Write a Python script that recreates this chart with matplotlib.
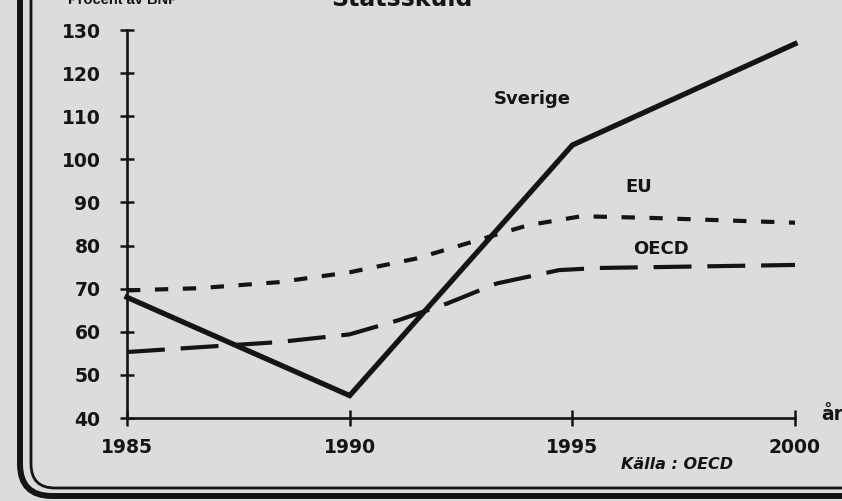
import matplotlib.pyplot as plt
from matplotlib.patches import FancyBboxPatch

# Data (statsskuld, procent av BNP)
sverige_years = [1985, 1990, 1995, 2000]
sverige = [68, 45.2, 103.3, 126.8]

eu_years = [1985, 1986.6, 1988.4, 1990, 1991.5, 1992.7, 1994.0, 1995.2, 1996.8, 2000]
eu = [69.6, 70.1, 71.5, 73.8, 77.0, 80.7, 84.7, 86.8, 86.4, 85.3]

oecd_years = [1985, 1986.6, 1988.4, 1990, 1991.1, 1992.2, 1993.3, 1994.7, 1995.6, 2000]
oecd = [55.3, 56.4, 57.6, 59.4, 62.7, 66.6, 71.2, 74.3, 74.8, 75.5]

yticks = [40, 50, 60, 70, 80, 90, 100, 110, 120, 130]
xticks = [1985, 1990, 1995, 2000]

font = "DejaVu Sans"
ink = "#141414"
paper = "#dcdcda"

W, H = 842, 501
fig = plt.figure(figsize=(W / 100, H / 100), dpi=100)
fig.patch.set_facecolor(paper)

# background axes in pixel coordinates for the frame
bg = fig.add_axes([0, 0, 1, 1], zorder=0)
bg.set_xlim(0, W)
bg.set_ylim(H, 0)
bg.axis("off")
bg.set_facecolor(paper)

outer = FancyBboxPatch((20, -60), 900, 556, boxstyle="round,pad=0,rounding_size=32",
                       fill=False, edgecolor=ink, linewidth=4.3)
inner = FancyBboxPatch((31, -60), 900, 548, boxstyle="round,pad=0,rounding_size=24",
                       fill=False, edgecolor=ink, linewidth=2.0)
bg.add_patch(outer)
bg.add_patch(inner)

# header texts, cut off at the top edge as in the scan
fig.text(68 / W, 1 - 4 / H, "Procent av BNP", fontsize=10.5, fontweight="bold",
         family="Liberation Sans", color=ink, va="baseline", ha="left")
fig.text(402 / W, 1 - 6 / H, "Statsskuld", fontsize=17, fontweight="bold",
         family=font, color=ink, va="baseline", ha="center")

# main chart
ax = fig.add_axes([127 / W, (H - 418) / H, (795 - 127) / W, (418 - 30) / H], zorder=1)
ax.set_facecolor("none")
ax.set_xlim(1985, 2000)
ax.set_ylim(40, 130)

for side in ["top", "right"]:
    ax.spines[side].set_visible(False)
for side in ["left", "bottom"]:
    ax.spines[side].set_linewidth(1.9)
    ax.spines[side].set_color(ink)

ax.set_yticks(yticks)
ax.set_xticks(xticks)
ax.tick_params(axis="y", direction="inout", length=10, width=1.8, color=ink,
               pad=14, labelsize=13.5, labelcolor=ink)
ax.tick_params(axis="x", direction="inout", length=11, width=1.8, color=ink,
               pad=9, labelsize=13.5, labelcolor=ink)
for lab in ax.get_xticklabels() + ax.get_yticklabels():
    lab.set_family(font)
    lab.set_fontweight("bold")

ax.plot(sverige_years, sverige, color=ink, linewidth=3.8, solid_joinstyle="miter",
        clip_on=False, zorder=3)
ax.plot(eu_years, eu, color=ink, linewidth=3.0, dashes=(3.2, 3.5),
        clip_on=False, zorder=3)
ax.plot(oecd_years, oecd, color=ink, linewidth=3.0, dashes=(9.1, 3.8),
        clip_on=False, zorder=3)

# series labels
lab_kw = dict(fontsize=13, fontweight="bold", family=font, color=ink, ha="center", va="center")
ax.text(1994.1, 114, "Sverige", **lab_kw)
ax.text(1996.5, 93.5, "EU", **lab_kw)
ax.text(1997.0, 79.3, "OECD", **lab_kw)

ax.text(2000.6, 40.8, "år", fontsize=13.5, fontweight="bold", family=font,
        color=ink, ha="left", va="center", clip_on=False)
ax.text(1996.1, 29.1, "Källa : OECD", fontsize=11.5, fontweight="bold", style="italic",
        family=font, color=ink, ha="left", va="center", clip_on=False)

fig.savefig("out.png", dpi=100, facecolor=paper)
